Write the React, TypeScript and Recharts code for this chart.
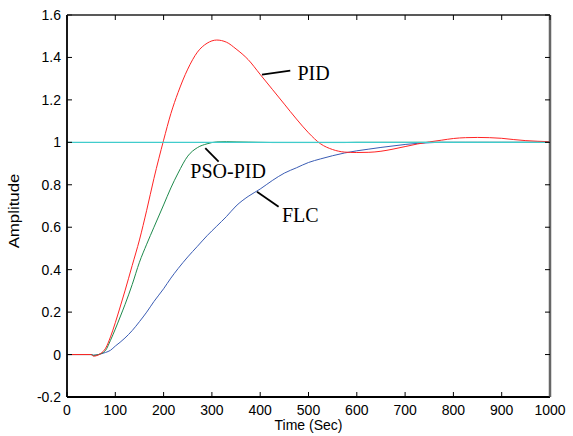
import { LineChart, Line, XAxis, YAxis, ReferenceLine, ReferenceDot } from 'recharts'

// time axis (sec)
const times = [
  0, 50, 55, 60, 70, 80, 90,
  100, 110, 120, 135, 150, 165, 180,
  200, 215, 230, 250, 270, 290, 310,
  330, 350, 375, 400, 425, 450, 475,
  500, 525, 550, 575, 600, 625, 650,
  675, 700, 725, 750, 775, 800, 825,
  850, 875, 900, 925, 950, 975, 1000,
]

const pid = [
  0, 0, -0.008, -0.006, 0.005, 0.03, 0.083,
  0.15, 0.224, 0.3, 0.42, 0.54, 0.68, 0.83,
  1.01, 1.135, 1.235, 1.345, 1.425, 1.467, 1.482,
  1.472, 1.44, 1.39, 1.32, 1.25, 1.18, 1.11,
  1.045, 0.993, 0.966, 0.954, 0.952, 0.953, 0.958,
  0.968, 0.98, 0.992, 1.002, 1.01, 1.018, 1.022,
  1.023, 1.022, 1.019, 1.013, 1.008, 1.005, 1.003,
]

const psoPid = [
  0, 0, -0.004, -0.003, 0.004, 0.02, 0.067,
  0.12, 0.177, 0.235, 0.33, 0.435, 0.52, 0.6,
  0.705, 0.785, 0.855, 0.935, 0.975, 0.993, 1.002,
  1.003, 1.002, 1.001, 1, 0.999, 0.999, 0.999,
  0.999, 0.999, 0.999, 0.999, 1, 1, 1,
  1, 1, 1, 1, 1, 1, 1,
  1, 1, 1, 1, 1, 1, 1,
]

const flc = [
  0, 0, -0.003, -0.002, 0.003, 0.01, 0.02,
  0.04, 0.058, 0.078, 0.113, 0.155, 0.2, 0.25,
  0.31, 0.36, 0.405, 0.46, 0.51, 0.56, 0.605,
  0.65, 0.7, 0.745, 0.78, 0.82, 0.855, 0.88,
  0.905, 0.922, 0.937, 0.95, 0.96, 0.968, 0.976,
  0.983, 0.99, 0.995, 0.998, 1, 1, 1,
  1, 1, 1, 1, 1, 1, 1,
]

const setpoint = 1
const xDomain = [0, 1000]
const yDomain = [-0.2, 1.6]
const xTicks = [0, 100, 200, 300, 400, 500, 600, 700, 800, 900, 1000]
const yTicks = [-0.2, 0, 0.2, 0.4, 0.6, 0.8, 1, 1.2, 1.4, 1.6]

// curve labels: text anchor and leader line, in data units
const labels = [
  { name: 'PID', at: [477, 1.292], from: [403.7, 1.319], to: [462.3, 1.338] },
  { name: 'PSO-PID', at: [255.3, 0.831], from: [286.3, 0.9727], to: [313.9, 0.9093] },
  { name: 'FLC', at: [445.1, 0.626], from: [393.4, 0.7676], to: [438.1, 0.6967] },
]

const data = times.map((t, i) => ({ t, pid: pid[i], pso: psoPid[i], flc: flc[i] }))

const sans = '"Liberation Sans", Arial, Helvetica, sans-serif'
const serif = '"Liberation Serif", "Times New Roman", serif'

// inward tick marks on top / right frame axes
const TopMark = ({ x, y }: any) => <path d={`M${x},${y}V${y + 5}`} stroke="#000" strokeWidth={1} fill="none" />
const RightMark = ({ x, y }: any) => <path d={`M${x},${y}H${x - 5}`} stroke="#000" strokeWidth={1} fill="none" />

// bottom / left tick marks drawn from reference lines at each tick
const BottomMark = (p: any) => {
  const yb = Math.max(p.y1, p.y2)
  return <path d={`M${p.x1},${yb}V${yb - 5}`} stroke="#000" strokeWidth={1} fill="none" />
}
const LeftMark = (p: any) => {
  const xl = Math.min(p.x1, p.x2)
  return <path d={`M${xl},${p.y1}H${xl + 5}`} stroke="#000" strokeWidth={1} fill="none" />
}

const BottomLabel = ({ x, y, payload }: any) => (
  <text x={x} y={y + 18} textAnchor="middle" fontSize={14} fontFamily={sans} fill="#000">
    {payload.value}
  </text>
)

const LeftLabel = ({ x, y, payload }: any) => (
  <text x={x - 6} y={y + 5} textAnchor="end" fontSize={14} fontFamily={sans} fill="#000">
    {payload.value}
  </text>
)

const titleStyle = { position: 'absolute', fontFamily: sans, fontSize: 14, color: '#000', lineHeight: '16px', whiteSpace: 'nowrap' } as const

const frame = { type: 'number' as const, tickSize: 0, tickMargin: 0, tickLine: false, axisLine: true }

export default function App() {
  return (
    <div style={{ position: 'absolute', left: 0, top: 0, width: 573, height: 436, background: '#fff' }}>
      <LineChart width={573} height={436} data={data} margin={{ top: 14, right: 22, bottom: 0, left: 0 }}>
        {/* tick text on bottom / left */}
        <XAxis dataKey="t" type="number" domain={xDomain} ticks={xTicks} height={39} tickSize={0} tickMargin={0} tickLine={false} axisLine={false} tick={<BottomLabel />} />
        <YAxis type="number" domain={yDomain} ticks={yTicks} width={67} tickSize={0} tickMargin={0} tickLine={false} axisLine={false} tick={<LeftLabel />} />

        {/* top / right sides of the box */}
        <XAxis {...frame} xAxisId="top" orientation="top" dataKey="t" domain={xDomain} ticks={xTicks} height={1} tick={<TopMark />} stroke="#222" strokeWidth={1.5} />
        <YAxis {...frame} yAxisId="right" orientation="right" dataKey="pid" domain={yDomain} ticks={yTicks} width={1} tick={<RightMark />} stroke="#666" strokeWidth={2.5} />

        <Line type="monotone" dataKey="flc" stroke="#3a5cb4" strokeWidth={1} dot={false} isAnimationActive={false} />
        <Line type="monotone" dataKey="pso" stroke="#1e8a4c" strokeWidth={1} dot={false} isAnimationActive={false} />
        <Line type="monotone" dataKey="pid" stroke="#ff2424" strokeWidth={1} dot={false} isAnimationActive={false} />
        <ReferenceLine y={setpoint} stroke="#40cccc" strokeWidth={1.2} />

        {/* left / bottom sides of the box and their inward ticks */}
        <ReferenceLine x={xDomain[0]} stroke="#000" strokeWidth={1.8} />
        <ReferenceLine y={yDomain[0]} stroke="#000" strokeWidth={2} />
        {xTicks.map((t) => (
          <ReferenceLine key={'xt' + t} x={t} stroke="#000" shape={BottomMark} />
        ))}
        {yTicks.map((v) => (
          <ReferenceLine key={'yt' + v} y={v} stroke="#000" shape={LeftMark} />
        ))}

        {labels.map((l) => (
          <ReferenceLine
            key={l.name + '-line'}
            segment={[{ x: l.from[0], y: l.from[1] }, { x: l.to[0], y: l.to[1] }]}
            stroke="#000"
            strokeWidth={1.8}
          />
        ))}
        {labels.map((l) => (
          <ReferenceDot
            key={l.name}
            x={l.at[0]}
            y={l.at[1]}
            r={0}
            shape={(p: any) => (
              <text x={p.cx} y={p.cy} fontSize={20} fontFamily={serif} fill="#000">
                {l.name}
              </text>
            )}
          />
        ))}
      </LineChart>
      <div style={{ ...titleStyle, left: 67, width: 483, top: 417, textAlign: 'center' }}>Time (Sec)</div>
      <div
        style={{
          ...titleStyle,
          left: 14 - 45,
          width: 90,
          top: 203,
          textAlign: 'center',
          transform: 'rotate(-90deg) scaleX(1.2)',
          transformOrigin: '50% 50%',
        }}
      >
        Amplitude
      </div>
    </div>
  )
}
